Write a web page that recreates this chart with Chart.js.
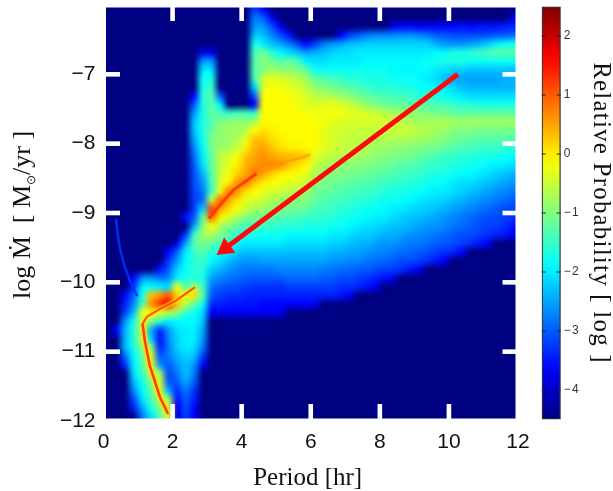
<!DOCTYPE html>
<html>
<head>
<meta charset="utf-8">
<title>Period vs mass transfer rate</title>
<script src="https://cdn.jsdelivr.net/npm/chart.js@4"></script>
<style>
    html, body { margin: 0; padding: 0; background: #fff; }
    #wrap { position: relative; width: 613px; height: 491px; overflow: hidden; }
    canvas { position: absolute; top: 0; }
    #mainChart { left: 0; }
    #barChart { left: 530px; }
</style>
</head>
<body>
<div id="wrap">
    <canvas id="mainChart" width="530" height="491"></canvas>
    <canvas id="barChart" width="83" height="491"></canvas>
</div>
<script>
const xTicks = [0, 2, 4, 6, 8, 10, 12];
const yTicks = [-7, -8, -9, -10, -11, -12];
const barTicks = [2, 1, 0, -1, -2, -3, -4];

// log probability. one entry per row, top row first,
// every run is [first column, value, value, ...]. columns are 0.25 hr, rows 0.125 dex
const cellRows = [
    [[17,-3.2,-3.6]],
    [[17,-2.8,-3,-3.7],[47,-3.8]],
    [[17,-2.6,-2.6,-3.1,-3.7],[33,-3.8,-3.6,-3.6,-3.7,-3.7,-3.6,-3.6,-3.6,-3.5,-3.6,-3.5,-3.5,-3.5,-3.4,-3.4]],
    [[17,-2.3,-2.3,-2.7,-3.1,-3.5],[27,-3.7,-3.2,-3,-2.8,-2.7,-2.7,-2.7,-2.6,-2.6,-2.7,-2.8,-3,-3,-3.1,-3.1,-3.1,-3.1,-3.1,-3,-3,-2.9]],
    [[17,-1.7,-2,-2.3,-2.5,-2.8,-3.2,-3.6,-3.2,-2.8,-2.6,-2.5,-2.3,-2.3,-2.2,-2.2,-2.2,-2.2,-2.2,-2.2,-2.2,-2.2,-2.4,-2.6,-2.6,-2.6,-2.5,-2.4,-2.2,-2,-1.8,-1.7]],
    [[11,-3.8,-3.8],[17,-1.4,-1.1,-1.6,-1.9,-2.1,-2.3,-2.5,-2.4,-2.3,-2.2,-2.1,-2.1,-2,-2,-2,-2,-2,-2,-2,-2,-2,-1.9,-1.9,-1.7,-1.7,-1.6,-1.5,-1.4,-1.3,-1.3,-1.3]],
    [[11,-2.6,-2.6],[17,-1.3,-1,-1.1,-1.3,-1.2,-1.4,-2,-2.1,-2.1,-2,-2,-2,-2,-1.9,-1.9,-1.9,-1.9,-1.9,-1.9,-1.9,-1.8,-1.8,-1.7,-1.7,-1.7,-1.8,-1.8,-1.8,-1.8,-1.8,-1.8]],
    [[11,-2.1,-2.1],[17,-1.3,-1,-.8,-.9,-.9,-1,-1.2,-1.8,-1.8,-1.8,-1.8,-1.8,-1.8,-1.8,-1.8,-1.8,-1.9,-1.9,-1.9,-1.9,-1.9,-2,-2.1,-2.2,-2.2,-2.3,-2.3,-2.3,-2.3,-2.3,-2.3]],
    [[11,-1.8,-1.7],[17,-1.4,-.5,-.3,-.4,-.5,-.6,-.8,-1.2,-1.3,-1.4,-1.5,-1.6,-1.6,-1.7,-1.7,-1.7,-1.8,-1.8,-1.8,-1.9,-2,-2.1,-2.3,-2.4,-2.5,-2.5,-2.5,-2.5,-2.5,-2.4,-2.4]],
    [[11,-1.7,-1.5],[17,-2.2,-.4,-.2,-.2,-.3,-.4,-.6,-.9,-1,-1.1,-1.2,-1.3,-1.4,-1.5,-1.6,-1.6,-1.6,-1.7,-1.7,-1.8,-1.8,-1.9,-2,-2.2,-2.3,-2.4,-2.4,-2.4,-2.4,-2.4,-2.4]],
    [[10,-3.6,-1.6,-1.3,-3],[17,-3,-.2,-.1,-.1,-.2,-.3,-.4,-.6,-.6,-.7,-.8,-.9,-1.1,-1.2,-1.3,-1.4,-1.4,-1.4,-1.5,-1.6,-1.6,-1.7,-1.8,-1.9,-2,-2.1,-2.1,-2.1,-2.1,-2.1,-2.1]],
    [[10,-3,-1.7,-1.3,-2],[17,-3.6,-.1,-.1,-.1,-.1,-.2,-.3,-.4,-.3,-.3,-.4,-.5,-.7,-.9,-1,-1.1,-1.2,-1.2,-1.3,-1.3,-1.3,-1.4,-1.4,-1.5,-1.6,-1.6,-1.7,-1.7,-1.7,-1.7,-1.7]],
    [[10,-2.6,-1.7,-1.2,-1.4,-1.5,-1.4,-1.4,-1.5,-.1,-.1,-.1,-.1,-.1,-.2,-.2,-.2,-.2,-.2,-.3,-.3,-.4,-.5,-.6,-.7,-.8,-.9,-.9,-1,-1.1,-1.1,-1.2,-1.2,-1.2,-1.2,-1.2,-1.2,-1.2,-1.2]],
    [[10,-2.3,-1.7,-1.3,-1,-.9,-.9,-.9,-.7,-.1,-.1,-.1,-.1,-.1,-.1,-.2,-.2,-.3,-.4,-.4,-.4,-.4,-.4,-.4,-.5,-.6,-.7,-.8,-.7,-.7,-.7,-.8,-.8,-.8,-.8,-.8,-.8,-.8,-.8]],
    [[10,-2.3,-1.7,-1.2,-.9,-.8,-.8,-.6,-.1,.1,0,-.1,-.1,-.1,-.1,-.1,-.3,-.4,-.4,-.5,-.5,-.5,-.6,-.5,-.5,-.5,-.5,-.6,-.7,-.8,-.8,-1,-1,-1,-1.1,-1.1,-1.1,-1.1,-1.1]],
    [[10,-2.5,-1.8,-1,-.9,-.8,-.7,-.3,.3,.3,.1,0,-.1,-.1,-.1,-.1,-.3,-.4,-.5,-.5,-.6,-.6,-.7,-.7,-.7,-.7,-.7,-.8,-.8,-.9,-1,-1.1,-1.2,-1.2,-1.3,-1.3,-1.3,-1.3,-1.3]],
    [[10,-2.7,-1.9,-1.1,-.8,-.7,-.5,0,.4,.5,.3,.1,0,0,-.1,-.2,-.3,-.4,-.5,-.6,-.6,-.7,-.8,-.8,-.9,-.9,-1,-1,-1.1,-1.1,-1.2,-1.3,-1.4,-1.4,-1.5,-1.5,-1.5,-1.6,-1.6]],
    [[10,-2.9,-2,-1.2,-.6,-.4,-.2,.3,.5,.6,.5,.4,.4,.3,.2,-.3,-.5,-.6,-.7,-.7,-.8,-.8,-.9,-1,-1,-1.1,-1.1,-1.2,-1.3,-1.4,-1.5,-1.5,-1.6,-1.6,-1.7,-1.7,-1.8,-1.8,-1.9]],
    [[10,-3,-2.1,-1.2,-.6,-.3,0,.4,.6,.7,.7,.6,.3,.1,-.1,-.5,-.7,-.8,-.9,-.9,-1,-1,-1.1,-1.1,-1.2,-1.3,-1.3,-1.4,-1.5,-1.5,-1.6,-1.7,-1.7,-1.8,-1.8,-1.9,-2,-2,-2.1]],
    [[10,-3.1,-2.4,-1.3,-.5,-.2,.2,.5,.8,.5,.2,0,-.1,-.2,-.3,-.7,-.9,-1,-1,-1.1,-1.1,-1.2,-1.2,-1.3,-1.3,-1.4,-1.5,-1.5,-1.6,-1.7,-1.7,-1.8,-1.9,-1.9,-2,-2.1,-2.2,-2.3,-2.4]],
    [[10,-3.1,-2.6,-1.4,-.4,0,.6,.8,.3,0,-.1,-.2,-.3,-.4,-.5,-.9,-1,-1.1,-1.2,-1.2,-1.3,-1.3,-1.4,-1.5,-1.5,-1.6,-1.6,-1.7,-1.8,-1.8,-1.9,-2,-2.1,-2.1,-2.2,-2.3,-2.4,-2.5,-2.6]],
    [[10,-3.2,-2.8,-1.5,-.3,.8,.6,.1,-.1,-.3,-.4,-.5,-.6,-.7,-.8,-1.1,-1.2,-1.2,-1.3,-1.4,-1.4,-1.5,-1.5,-1.6,-1.7,-1.7,-1.8,-1.8,-1.9,-2,-2,-2.1,-2.2,-2.3,-2.4,-2.5,-2.6,-2.7,-2.8]],
    [[10,-3.2,-2.9,-.5,1,.5,.1,-.3,-.4,-.5,-.7,-.8,-.9,-1,-1,-1.2,-1.3,-1.4,-1.4,-1.5,-1.6,-1.6,-1.7,-1.8,-1.8,-1.9,-1.9,-2,-2.1,-2.1,-2.2,-2.3,-2.4,-2.5,-2.6,-2.7,-2.8,-2.9,-3]],
    [[10,-3.2,-2.2,1.2,.6,.1,-.2,-.5,-.7,-.8,-.9,-1,-1.1,-1.1,-1.2,-1.4,-1.4,-1.5,-1.6,-1.6,-1.7,-1.8,-1.8,-1.9,-2,-2,-2.1,-2.2,-2.2,-2.3,-2.4,-2.5,-2.6,-2.7,-2.8,-2.9,-3,-3.1,-3.2]],
    [[9,-3.5,-3,-1.2,.9,0,-.4,-.7,-1,-1.1,-1.2,-1.3,-1.3,-1.4,-1.4,-1.5,-1.5,-1.6,-1.6,-1.7,-1.8,-1.8,-1.9,-2,-2,-2.1,-2.2,-2.3,-2.3,-2.4,-2.5,-2.6,-2.7,-2.8,-2.9,-3,-3.1,-3.1,-3.2,-3.3]],
    [[10,-2.5,-1,-.2,-.7,-1,-1.2,-1.4,-1.4,-1.5,-1.5,-1.6,-1.6,-1.6,-1.7,-1.7,-1.7,-1.8,-1.8,-1.9,-2,-2.1,-2.1,-2.2,-2.3,-2.3,-2.4,-2.5,-2.6,-2.6,-2.7,-2.8,-2.9,-3,-3.1,-3.2,-3.2,-3.3,-3.5]],
    [[9,-3.3,-1.5,-.8,-.7,-1,-1.3,-1.6,-1.7,-1.7,-1.8,-1.8,-1.8,-1.9,-1.9,-1.9,-1.9,-1.9,-2,-2,-2.1,-2.2,-2.2,-2.3,-2.4,-2.4,-2.5,-2.6,-2.7,-2.7,-2.8,-2.9,-3,-3.1,-3.1,-3.2,-3.3,-3.4,-3.5,-3.7]],
    [[8,-3.8,-2.5,-1.3,-1.1,-1.2,-1.4,-1.6,-1.9,-2,-2,-2,-2,-2,-2.1,-2.1,-2.1,-2.1,-2.1,-2.2,-2.2,-2.3,-2.4,-2.4,-2.5,-2.6,-2.6,-2.7,-2.8,-2.8,-2.9,-3,-3,-3.1,-3.2,-3.3,-3.5,-3.7]],
    [[7,-3.6,-3,-2,-1.5,-1.3,-1.6,-1.8,-2,-2.2,-2.3,-2.3,-2.3,-2.3,-2.3,-2.3,-2.3,-2.3,-2.3,-2.3,-2.4,-2.4,-2.5,-2.5,-2.6,-2.7,-2.7,-2.8,-2.9,-2.9,-3,-3.1,-3.2,-3.3,-3.4,-3.6]],
    [[7,-3.3,-2.6,-1.9,-1.6,-1.5,-1.9,-2.1,-2.3,-2.5,-2.6,-2.6,-2.5,-2.5,-2.5,-2.5,-2.5,-2.5,-2.5,-2.5,-2.6,-2.6,-2.7,-2.7,-2.8,-2.9,-2.9,-3,-3.1,-3.1,-3.2,-3.3,-3.5,-3.7]],
    [[6,-3.5,-3,-2.2,-1.8,-1.6,-1.6,-2.2,-2.4,-2.6,-2.7,-2.8,-2.8,-2.8,-2.8,-2.7,-2.7,-2.7,-2.7,-2.7,-2.8,-2.8,-2.9,-2.9,-3,-3,-3.1,-3.2,-3.2,-3.3,-3.5,-3.7]],
    [[3,-3.6,-2.7,-2.6,-2.8,-2.7,-2,-1.7,-1.6,-1.7,-2.5,-2.7,-2.8,-2.9,-3,-3,-3,-3,-3,-2.9,-2.9,-2.9,-2.9,-3,-3,-3.1,-3.1,-3.2,-3.3,-3.4,-3.5,-3.7]],
    [[3,-3.3,-2,-1.9,-2,-2.1,-.3,-1.3,-.9,-1.4,-2.8,-3,-3.1,-3.1,-3.2,-3.3,-3.3,-3.3,-3.3,-3.2,-3.2,-3.2,-3.2,-3.2,-3.2,-3.3,-3.3,-3.4,-3.5,-3.7]],
    [[2,-3.6,-2.9,-1.7,.3,.6,1,.2,-.3,.1,-1.3,-3,-3.2,-3.3,-3.3,-3.4,-3.4,-3.4,-3.4,-3.4,-3.4,-3.4,-3.4,-3.4,-3.4,-3.4,-3.5,-3.7]],
    [[2,-3.4,-2.7,-1.4,.6,1.2,1.5,.3,-.6,-1.2,-1.8,-3.3,-3.4,-3.5,-3.5,-3.5,-3.5,-3.6,-3.6,-3.6,-3.6,-3.6,-3.6,-3.7]],
    [[2,-3.2,-2.3,-.3,-.1,-.3,-.6,-.9,-1.5,-1.8,-2.2,-3.7,-3.7,-3.7,-3.7,-3.7,-3.7,-3.7,-3.7,-3.7]],
    [[2,-2.6,-1.7,-.5,-.9,-1.6,-2,-1.9,-1.9,-1.9,-2.3]],
    [[1,-3.6,-2.4,-1.6,-.6,-2.4,-3.3,-2.6,-2.1,-2,-2,-2.5]],
    [[2,-2.4,-1.6,-.6,-2.2,-3.5,-2.7,-2.2,-2,-2,-2.6]],
    [[2,-2.4,-1.7,-.9,-.9,-3.4,-2.8,-2.2,-2,-2.1,-2.8]],
    [[2,-2.9,-1.9,-1.2,-.4,-3,-2.8,-2.4,-2.2,-2.3,-3.2]],
    [[2,-3.3,-2,-1.3,-.3,-2.6,-3,-2.6,-2.3,-2.6,-3.6]],
    [[3,-2.1,-1.5,-.6,-.8,-3.1,-2.8,-2.3,-2.8]],
    [[3,-2.4,-1.7,-1,-.4,-3,-3,-2.5,-3]],
    [[3,-2.7,-1.9,-1.2,-.4,-2.4,-3.3,-2.8,-3.3]],
    [[3,-3.1,-2.1,-1.4,-.7,-.8,-3.5,-3,-3.4]],
    [[3,-3.4,-2.5,-1.7,-1,-.4,-3.8,-3.1,-3.6]],
    [[4,-2.8,-2.1,-1.3,-.4,-3.9,-3.2,-3.7]]
];

// thin features, narrower than a cell
const wedgeX = [0.36, 0.45, 0.6, 0.78, 0.98];
const wedgeY = [-9.08, -9.45, -9.75, -10, -10.2];
const bounceX = [1.13, 1.2, 1.34, 1.63, 1.87];
const bounceY = [-10.6, -10.85, -11.2, -11.65, -11.9];
const shelfX = [1.13, 1.25, 1.65, 2.05, 2.65];
const shelfY = [-10.6, -10.5, -10.38, -10.28, -10.07];
const gapHotX = [3.05, 3.4, 3.76, 4.43];
const gapHotY = [-9.08, -8.87, -8.67, -8.43];
const gapCoolX = [4.43, 5.2, 5.98];
const gapCoolY = [-8.43, -8.28, -8.16];
const arrowX = [10.26, 3.53];
const arrowY = [-7, -9.51];

const navy = 'rgb(0,0,131)';

function jet(v) {
    const t = (v + 4.5) / 7;
    const part = (c) => Math.round(255 * Math.max(0, Math.min(1, 1.5 - Math.abs(4 * t - c))));
    return `rgb(${part(3)},${part(2)},${part(1)})`;
}

const cells = [];
cellRows.forEach((runs, r) => {
    runs.forEach((run) => {
        run.slice(1).forEach((v, i) => {
            cells.push({ col: run[0] + i, row: r, x: (run[0] + i) * 0.25 + 0.125, y: -6 - (r + 0.5) * 0.125, v: v });
        });
    });
});

const toPoints = (xs, ys) => xs.map((x, i) => ({ x: x, y: ys[i] }));
const minus = (v) => String(v).replace('-', '\u2212');

function ridge(xs, ys, color, width) {
    return {
        data: toPoints(xs, ys),
        showLine: true,
        borderColor: color,
        borderWidth: width,
        pointRadius: 0,
        order: 1,
    };
}

// paints the cell dataset softly: one texel per cell, stretched between the scale pixels
const cellPlugin = {
    id: 'cellImage',
    beforeDatasetDraw(chart, args) {
        if (args.meta.label !== 'cells') return;
        const { ctx, scales, chartArea: a } = chart;
        const img = document.createElement('canvas');
        img.width = cellRows.length;
        img.height = cellRows.length;
        const ic = img.getContext('2d');
        ic.fillStyle = navy;
        ic.fillRect(0, 0, img.width, img.height);
        cells.forEach((c) => {
            ic.fillStyle = jet(c.v);
            ic.fillRect(c.col, c.row, 1, 1);
        });
        const left = scales.x.getPixelForValue(0);
        const right = scales.x.getPixelForValue(12);
        const top = scales.y.getPixelForValue(-6);
        const bottom = scales.y.getPixelForValue(-12);
        ctx.save();
        ctx.beginPath();
        ctx.rect(a.left, a.top, a.width, a.height);
        ctx.clip();
        ctx.imageSmoothingEnabled = true;
        ctx.imageSmoothingQuality = 'high';
        ctx.drawImage(img, left, top, right - left, bottom - top);
        ctx.restore();
        return false;
    },
};

// white frame and the white inward ticks on all four sides
const framePlugin = {
    id: 'frame',
    afterDatasetsDraw(chart) {
        const { ctx, chartArea: a, scales } = chart;
        ctx.save();
        ctx.fillStyle = '#fff';
        xTicks.slice(1, -1).forEach((v) => {
            const p = scales.x.getPixelForValue(v);
            ctx.fillRect(p - 2.3, a.top, 4.6, 16);
            ctx.fillRect(p - 2.3, a.bottom - 17, 4.6, 17);
        });
        yTicks.slice(0, -1).forEach((v) => {
            const p = scales.y.getPixelForValue(v);
            ctx.fillRect(a.left, p - 2.3, 16.5, 4.6);
            ctx.fillRect(a.right - 15.5, p - 2.3, 15.5, 4.6);
        });
        ctx.strokeStyle = '#fff';
        ctx.lineWidth = 5;
        ctx.strokeRect(a.left, a.top, a.width, a.height);
        ctx.restore();
    },
};

// y title by hand, the sun symbol has to sit as a subscript
const yTitleParts = [
    { text: 'log \u1E40  [ M', size: 26, drop: 0 },
    { text: '\u2299', size: 12, drop: 5 },
    { text: '/yr ]', size: 26, drop: 0 },
];
const yTitlePlugin = {
    id: 'yTitle',
    afterDraw(chart) {
        const ctx = chart.ctx;
        const font = (p) => `${p.size}px "Liberation Serif"`;
        ctx.save();
        let total = 0;
        yTitleParts.forEach((p) => { ctx.font = font(p); total += ctx.measureText(p.text).width; });
        ctx.translate(30, 215 + total / 2);
        ctx.rotate(-Math.PI / 2);
        ctx.fillStyle = '#111';
        ctx.textBaseline = 'alphabetic';
        let at = 0;
        yTitleParts.forEach((p) => {
            ctx.font = font(p);
            ctx.fillText(p.text, at, p.drop);
            at += ctx.measureText(p.text).width;
        });
        ctx.restore();
    },
};

function noPadding(s) {
    s.paddingLeft = s.paddingRight = s.paddingTop = s.paddingBottom = 0;
}

new Chart(document.getElementById('mainChart'), {
    type: 'scatter',
    data: {
        datasets: [
            {
                data: toPoints(arrowX, arrowY),
                showLine: true,
                borderColor: 'rgb(255,10,10)',
                backgroundColor: 'rgb(255,10,10)',
                borderWidth: 5,
                pointBorderWidth: 0,
                pointStyle: 'triangle',
                pointRadius: [0, 11],
                rotation: [0, 233],
                order: 0,
            },
            ridge(wedgeX, wedgeY, 'rgba(0,50,255,0.9)', 2.5),
            ridge(bounceX, bounceY, 'rgb(255,60,0)', 2.5),
            ridge(bounceX, bounceY, 'rgba(255,220,0,0.75)', 6),
            ridge(shelfX, shelfY, 'rgb(255,80,0)', 2),
            ridge(shelfX, shelfY, 'rgba(255,230,0,0.6)', 5),
            ridge(gapHotX, gapHotY, 'rgba(255,50,0,0.85)', 3),
            ridge(gapCoolX, gapCoolY, 'rgba(255,140,0,0.5)', 3),
            { label: 'cells', data: cells, pointRadius: 0, order: 2 },
        ],
    },
    options: {
        responsive: false,
        animation: false,
        events: [],
        layout: { autoPadding: false, padding: { top: 5, right: 12, left: 0, bottom: 0 } },
        plugins: { legend: { display: false }, tooltip: { enabled: false } },
        scales: {
            x: {
                min: 0,
                max: 12,
                afterBuildTicks: (s) => { s.ticks = xTicks.map((v) => ({ value: v })); },
                afterFit: (s) => { s.height = 70; noPadding(s); },
                grid: { display: false, drawTicks: false },
                border: { display: false },
                ticks: { color: '#111', padding: 9, maxRotation: 0, font: { family: 'Liberation Sans', size: 21 } },
                title: {
                    display: true,
                    text: 'Period [hr] ',
                    color: '#111',
                    font: { family: 'Liberation Serif', size: 25 },
                    padding: { top: 3, bottom: -2 },
                },
            },
            y: {
                min: -12,
                max: -6,
                afterBuildTicks: (s) => { s.ticks = yTicks.map((v) => ({ value: v })); },
                afterFit: (s) => { s.width = 103.5; noPadding(s); },
                grid: { display: false, drawTicks: false },
                border: { display: false },
                ticks: {
                    color: '#111',
                    padding: 8,
                    font: { family: 'Liberation Sans', size: 21 },
                    callback: (v) => minus(v),
                },
            },
        },
    },
    plugins: [cellPlugin, framePlugin, yTitlePlugin],
});

// short dark ticks just inside both edges of the colour bar
const barTickPlugin = {
    id: 'barTicks',
    beforeDraw(chart) {
        chart.ctx.letterSpacing = '1.2px';
    },
    afterDatasetsDraw(chart) {
        const { ctx, chartArea: a, scales } = chart;
        ctx.save();
        ctx.fillStyle = '#222';
        barTicks.forEach((v) => {
            const p = scales.y.getPixelForValue(v);
            ctx.fillRect(a.left, p - 0.5, 4, 1);
            ctx.fillRect(a.right - 4, p - 0.5, 4, 1);
        });
        ctx.restore();
    },
};

new Chart(document.getElementById('barChart'), {
    type: 'bar',
    data: {
        labels: [''],
        datasets: [
            {
                data: [[-4.5, 2.5]],
                barPercentage: 1,
                categoryPercentage: 1,
                borderColor: '#333',
                borderWidth: 1.5,
                borderSkipped: false,
                backgroundColor: (ctx) => {
                    const a = ctx.chart.chartArea;
                    if (!a) return navy;
                    const g = ctx.chart.ctx.createLinearGradient(0, a.bottom, 0, a.top);
                    for (let i = 0; i <= 28; i++) {
                        g.addColorStop(i / 28, jet(-4.5 + i / 4));
                    }
                    return g;
                },
            },
        ],
    },
    options: {
        responsive: false,
        animation: false,
        events: [],
        layout: { autoPadding: false, padding: { top: 6.5, bottom: 71.5, left: 11.7, right: 0 } },
        plugins: { legend: { display: false }, tooltip: { enabled: false } },
        scales: {
            x: { display: false },
            y: {
                position: 'right',
                min: -4.5,
                max: 2.5,
                afterBuildTicks: (s) => { s.ticks = barTicks.map((v) => ({ value: v })); },
                afterFit: (s) => { s.width = 52.3; noPadding(s); },
                grid: { display: false, drawTicks: false },
                border: { display: false },
                ticks: {
                    color: '#333',
                    padding: 3,
                    font: { family: 'Liberation Sans', size: 12 },
                    callback: (v) => minus(v),
                },
                title: {
                    display: true,
                    text: 'Relative Probability [ log ]',
                    color: '#111',
                    font: { family: 'Liberation Serif', size: 25 },
                    padding: { top: -3, bottom: 0 },
                },
            },
        },
    },
    plugins: [barTickPlugin],
});
</script>
</body>
</html>
